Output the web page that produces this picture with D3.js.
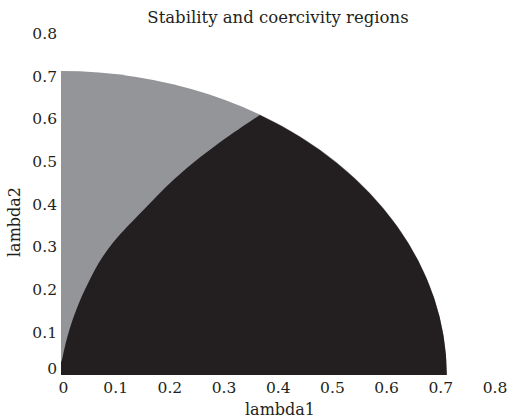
<!DOCTYPE html>
<html lang="en">
<head>
    <meta charset="UTF-8">
    <style>
        body { margin: 0; background: #fff; }
        svg text { font-family: "DejaVu Serif", "Liberation Serif", serif; fill: #231f20; }
    </style>
    <script src="https://d3js.org/d3.v7.min.js"></script>
    <title>Stability and coercivity regions</title>
</head>
<body>
    <svg width="509" height="418"></svg>

    <script>
        // values
        var xTicks = [0, 0.1, 0.2, 0.3, 0.4, 0.5, 0.6, 0.7, 0.8];
        var yTicks = [0, 0.1, 0.2, 0.3, 0.4, 0.5, 0.6, 0.7, 0.8];
        var radius = 0.712;   // outer edge of the stability region
        // boundary between the two regions, lambda1 / lambda2
        var boundaryL1 = [0, 0.002, 0.0055, 0.0116, 0.019, 0.028, 0.0375, 0.050, 0.062, 0.0775, 0.095, 0.113, 0.152, 0.189, 0.207, 0.238, 0.275, 0.312, 0.343, 0.367];
        var boundaryL2 = [0.03, 0.035, 0.059, 0.089, 0.122, 0.152, 0.183, 0.215, 0.246, 0.279, 0.309, 0.336, 0.386, 0.435, 0.457, 0.492, 0.528, 0.562, 0.589, 0.609];

        var svg = d3.select("svg");

        var x = d3.scaleLinear().domain([0, 0.8]).range([61, 494.5]);
        var y = d3.scaleLinear().domain([0, 0.8]).range([375, 33.5]);

        var fmt = function(d) { return d === 0 ? "0" : d3.format(".1f")(d); };

        // elliptical arc radii in pixels (scales differ on x and y)
        var rx = x(radius) - x(0),
            ry = y(0) - y(radius);

        // gray: whole quarter disk
        svg.append("path")
           .attr("d", "M" + x(0) + "," + y(0) +
                      "L" + x(radius) + "," + y(0) +
                      "A" + rx + "," + ry + " 0 0 0 " + x(0) + "," + y(radius) + "Z")
           .attr("fill", "#939598");

        // black: below the boundary curve, out to the circle
        var bnd = boundaryL1.map(function(d, i) { return [d, boundaryL2[i]]; });
        var curve = d3.line()
                      .x(function(d) { return x(d[0]); })
                      .y(function(d) { return y(d[1]); })
                      .curve(d3.curveBasis);
        svg.append("path")
           .attr("d", curve(bnd) +
                      "A" + rx + "," + ry + " 0 0 1 " + x(radius) + "," + y(0) +
                      "L" + x(0) + "," + y(0) + "Z")
           .attr("fill", "#231f20");

        // axes without lines, MATLAB style
        var xAxis = svg.append("g")
                       .attr("transform", "translate(0,375)")
                       .call(d3.axisBottom(x).tickValues(xTicks).tickSize(0).tickPadding(7).tickFormat(fmt));
        xAxis.select(".domain").remove();
        xAxis.selectAll(".tick text").attr("dx", function(d) { return d === 0 ? 2 : 0; });

        var yAxis = svg.append("g")
                       .attr("transform", "translate(57,0)")
                       .call(d3.axisLeft(y).tickValues(yTicks).tickSize(0).tickPadding(0).tickFormat(fmt));
        yAxis.select(".domain").remove();
        yAxis.selectAll(".tick text").attr("y", function(d) { return d === 0 ? -6 : 0; });

        svg.selectAll(".tick text")
           .attr("fill", "#231f20")
           .style("font-family", "'DejaVu Serif', serif")
           .style("font-size", "15.5px");

        // labels
        svg.append("text")
           .attr("x", 278).attr("y", 23)
           .attr("text-anchor", "middle")
           .style("font-size", "16.5px")
           .text("Stability and coercivity regions");

        svg.append("text")
           .attr("x", 280).attr("y", 415)
           .attr("text-anchor", "middle")
           .style("font-size", "16px")
           .text("lambda1");

        svg.append("text")
           .attr("transform", "translate(20,222) rotate(-90)")
           .attr("text-anchor", "middle")
           .style("font-size", "16px")
           .text("lambda2");
    </script>
</body>
</html>
